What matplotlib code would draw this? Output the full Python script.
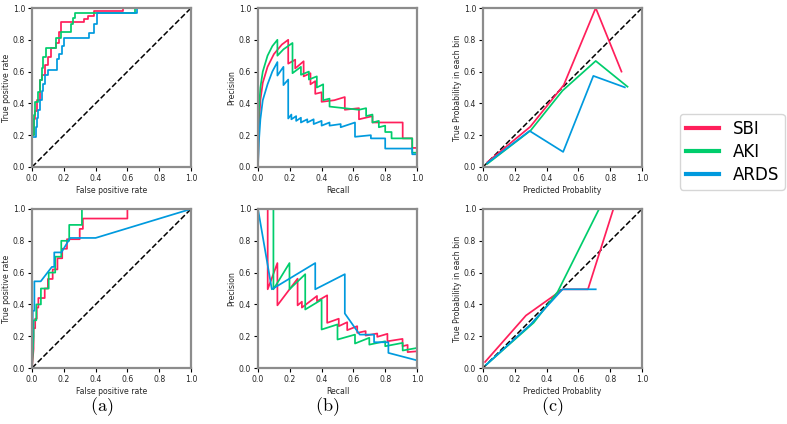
import matplotlib
matplotlib.use("Agg")
import matplotlib.pyplot as plt

plt.rcParams['mathtext.fontset'] = 'cm'

names = ['SBI', 'AKI', 'ARDS']
colors = ['#FF1F5B', '#00CD6C', '#009ADE']

# ---- ROC, top row ----
roc_top = {
    'SBI': ([0.0, 0.0, 0.01, 0.01, 0.02, 0.02, 0.03, 0.03, 0.05, 0.05, 0.06, 0.06, 0.08, 0.08, 0.10, 0.10,
             0.12, 0.12, 0.15, 0.15, 0.17, 0.17, 0.18, 0.18, 0.325, 0.325, 0.35, 0.35, 0.39, 0.39, 0.57, 0.57, 1.0],
            [0.0, 0.2, 0.2, 0.3, 0.3, 0.35, 0.35, 0.42, 0.42, 0.55, 0.55, 0.58, 0.58, 0.64, 0.64, 0.69,
             0.69, 0.75, 0.75, 0.78, 0.78, 0.85, 0.85, 0.91, 0.91, 0.93, 0.93, 0.95, 0.95, 0.98, 0.98, 1.0, 1.0]),
    'AKI': ([0.0, 0.0, 0.01, 0.01, 0.02, 0.02, 0.04, 0.04, 0.05, 0.05, 0.06, 0.06, 0.07, 0.07, 0.09, 0.09,
             0.15, 0.15, 0.18, 0.18, 0.245, 0.245, 0.26, 0.26, 0.27, 0.27, 0.645, 0.645, 1.0],
            [0.0, 0.2, 0.2, 0.33, 0.33, 0.41, 0.41, 0.47, 0.47, 0.55, 0.55, 0.62, 0.62, 0.69, 0.69, 0.75,
             0.75, 0.81, 0.81, 0.85, 0.85, 0.9, 0.9, 0.94, 0.94, 0.97, 0.97, 1.0, 1.0]),
    'ARDS': ([0.0, 0.0, 0.027, 0.027, 0.03, 0.03, 0.04, 0.04, 0.05, 0.05, 0.06, 0.06, 0.07, 0.07, 0.08, 0.08,
              0.10, 0.10, 0.157, 0.157, 0.17, 0.17, 0.19, 0.19, 0.20, 0.20, 0.36, 0.36, 0.39, 0.39, 0.41, 0.41,
              0.66, 0.66, 1.0],
             [0.0, 0.19, 0.19, 0.25, 0.25, 0.31, 0.31, 0.36, 0.36, 0.42, 0.42, 0.48, 0.48, 0.52, 0.52, 0.58,
              0.58, 0.61, 0.61, 0.68, 0.68, 0.71, 0.71, 0.76, 0.76, 0.81, 0.81, 0.84, 0.84, 0.9, 0.9, 0.97,
              0.97, 1.0, 1.0]),
}

# ---- ROC, bottom row ----
roc_bot = {
    'SBI': ([0.0, 0.01, 0.01, 0.02, 0.02, 0.03, 0.03, 0.04, 0.04, 0.08, 0.08, 0.10, 0.10, 0.13, 0.13, 0.16,
             0.16, 0.19, 0.19, 0.22, 0.22, 0.30, 0.30, 0.32, 0.32, 0.60, 0.60, 1.0],
            [0.0, 0.12, 0.25, 0.25, 0.31, 0.31, 0.38, 0.38, 0.44, 0.44, 0.5, 0.5, 0.56, 0.56, 0.62, 0.62,
             0.69, 0.69, 0.75, 0.75, 0.81, 0.81, 0.875, 0.875, 0.94, 0.94, 1.0, 1.0]),
    'AKI': ([0.0, 0.01, 0.01, 0.027, 0.027, 0.056, 0.056, 0.105, 0.105, 0.146, 0.146, 0.184, 0.184, 0.234,
             0.234, 0.314, 0.314, 1.0],
            [0.0, 0.2, 0.3, 0.3, 0.4, 0.4, 0.5, 0.5, 0.6, 0.6, 0.7, 0.7, 0.8, 0.8, 0.9, 0.9, 1.0, 1.0]),
    'ARDS': ([0.0, 0.005, 0.015, 0.015, 0.055, 0.125, 0.14, 0.14, 0.185, 0.24, 0.40, 1.0],
             [0.0, 0.36, 0.36, 0.545, 0.545, 0.636, 0.636, 0.727, 0.727, 0.818, 0.818, 1.0]),
}

# ---- Precision-recall, top row ----
pr_top = {
    'SBI': ([0.0, 0.005, 0.015, 0.03, 0.06, 0.10, 0.15, 0.19, 0.19, 0.234, 0.234, 0.287, 0.287, 0.33, 0.33,
             0.36, 0.36, 0.40, 0.40, 0.48, 0.546, 0.546, 0.635, 0.635, 0.72, 0.72, 0.91, 0.91, 0.97, 0.97, 1.0],
            [0.0, 0.25, 0.42, 0.53, 0.63, 0.71, 0.77, 0.80, 0.65, 0.675, 0.62, 0.665, 0.57, 0.59, 0.52,
             0.54, 0.46, 0.47, 0.41, 0.42, 0.44, 0.36, 0.37, 0.30, 0.32, 0.28, 0.28, 0.18, 0.18, 0.12, 0.12]),
    'AKI': ([0.0, 0.005, 0.015, 0.03, 0.06, 0.09, 0.122, 0.122, 0.16, 0.217, 0.217, 0.27, 0.27, 0.32, 0.32,
             0.37, 0.37, 0.41, 0.41, 0.45, 0.45, 0.635, 0.68, 0.68, 0.72, 0.72, 0.76, 0.76, 0.80, 0.80, 0.84,
             0.84, 0.97, 0.97, 1.0],
            [0.0, 0.35, 0.5, 0.6, 0.7, 0.76, 0.80, 0.70, 0.74, 0.78, 0.59, 0.63, 0.58, 0.60, 0.55,
             0.57, 0.50, 0.52, 0.42, 0.43, 0.38, 0.36, 0.37, 0.32, 0.33, 0.28, 0.29, 0.25, 0.26, 0.22, 0.22,
             0.18, 0.18, 0.09, 0.09]),
    'ARDS': ([0.0, 0.005, 0.015, 0.03, 0.06, 0.09, 0.122, 0.122, 0.16, 0.16, 0.19, 0.19, 0.21, 0.21, 0.24,
              0.24, 0.27, 0.27, 0.31, 0.31, 0.35, 0.35, 0.40, 0.40, 0.45, 0.45, 0.52, 0.52, 0.61, 0.61, 0.71,
              0.71, 0.80, 0.80, 0.97, 0.97, 1.0],
             [0.0, 0.15, 0.30, 0.42, 0.52, 0.60, 0.66, 0.575, 0.63, 0.515, 0.55, 0.305, 0.33, 0.30, 0.32,
              0.29, 0.31, 0.28, 0.30, 0.28, 0.30, 0.27, 0.29, 0.26, 0.28, 0.26, 0.27, 0.25, 0.28, 0.19, 0.20,
              0.18, 0.18, 0.116, 0.116, 0.08, 0.08]),
}

# ---- Precision-recall, bottom row ----
pr_bot = {
    'SBI': ([0.061, 0.061, 0.122, 0.122, 0.249, 0.249, 0.276, 0.276, 0.371, 0.371, 0.435, 0.435, 0.508, 0.508,
             0.561, 0.561, 0.624, 0.624, 0.677, 0.677, 0.75, 0.75, 0.814, 0.814, 0.909, 0.909, 0.941, 0.941, 1.0],
            [1.0, 0.495, 0.66, 0.394, 0.562, 0.394, 0.417, 0.38, 0.453, 0.42, 0.457, 0.284, 0.31, 0.263,
             0.288, 0.238, 0.263, 0.221, 0.232, 0.204, 0.217, 0.196, 0.215, 0.168, 0.183, 0.137, 0.145, 0.10, 0.105]),
    'AKI': ([0.097, 0.097, 0.198, 0.198, 0.297, 0.297, 0.40, 0.40, 0.50, 0.50, 0.61, 0.61, 0.70, 0.70,
             0.80, 0.80, 0.91, 0.91, 1.0],
            [1.0, 0.495, 0.66, 0.495, 0.59, 0.368, 0.43, 0.242, 0.274, 0.179, 0.21, 0.154, 0.19, 0.147,
             0.168, 0.137, 0.158, 0.11, 0.126]),
    'ARDS': ([0.0, 0.087, 0.36, 0.36, 0.546, 0.546, 0.624, 0.64, 0.73, 0.73, 0.82, 0.82, 1.0],
             [1.0, 0.495, 0.66, 0.495, 0.59, 0.343, 0.232, 0.21, 0.21, 0.162, 0.162, 0.095, 0.048]),
}

# ---- Calibration ----
cal_top = {
    'SBI': ([0.027, 0.297, 0.508, 0.709, 0.871], [0.03, 0.253, 0.516, 1.0, 0.6]),
    'AKI': ([0.027, 0.30, 0.50, 0.709, 0.909], [0.02, 0.23, 0.48, 0.667, 0.505]),
    'ARDS': ([0.027, 0.293, 0.504, 0.694, 0.892], [0.025, 0.227, 0.095, 0.573, 0.501]),
}
cal_bot = {
    'SBI': ([0.013, 0.27, 0.502, 0.66, 0.82], [0.038, 0.33, 0.495, 0.495, 1.0]),
    'AKI': ([0.02, 0.319, 0.47, 0.73], [0.02, 0.285, 0.48, 1.0]),
    'ARDS': ([0.02, 0.30, 0.50, 0.709], [0.02, 0.275, 0.495, 0.495]),
}

xlabels = ['False positive rate', 'Recall', 'Predicted Probablity']
ylabels = ['True positive rate', 'Precision', 'True Probability in each bin']
panels = ['(a)', '(b)', '(c)']

fig = plt.figure(figsize=(7.87, 4.24), dpi=100)

W, H = 787.0, 424.0
lefts = [32, 258, 483]
tops = [8, 209]
size = 159

rows = [[roc_top, pr_top, cal_top], [roc_bot, pr_bot, cal_bot]]

lines = []
for r, row in enumerate(rows):
    for c, data in enumerate(row):
        ax = fig.add_axes([lefts[c] / W, 1 - (tops[r] + size) / H, size / W, size / H])
        if c != 1:
            ax.plot([0, 1], [0, 1], 'k--', lw=1.1)
        for name, col in zip(names, colors):
            x, y = data[name]
            ln, = ax.plot(x, y, color=col, lw=1.25)
            if r == 0 and c == 0:
                lines.append(ln)
        ax.set_xlim(0, 1)
        ax.set_ylim(0, 1)
        ax.set_xticks([0, 0.2, 0.4, 0.6, 0.8, 1.0])
        ax.set_yticks([0, 0.2, 0.4, 0.6, 0.8, 1.0])
        ax.tick_params(labelsize=5.6, length=3, width=0.8, pad=2, labelcolor='0.15')
        ax.set_xlabel(xlabels[c], fontsize=5.6, labelpad=2, color='0.15')
        ax.set_ylabel(ylabels[c], fontsize=5.6, labelpad=1.5, color='0.15')
        for sp in ax.spines.values():
            sp.set_color('0.55')
            sp.set_linewidth(1.6)

for c in range(3):
    fig.text((lefts[c] + size / 2 - 10) / W, 1 - 407 / H, r'$\mathrm{' + panels[c] + '}$',
             fontsize=13, ha='center', va='center')

leg = fig.legend(lines, names, loc='center left', bbox_to_anchor=(680 / W, 1 - 152 / H),
                 fontsize=12, frameon=True, handlelength=2.0, borderaxespad=0,
                 labelspacing=0.3, borderpad=0.35)
for l in leg.get_lines():
    l.set_linewidth(3)

fig.savefig('out.png', dpi=100)
